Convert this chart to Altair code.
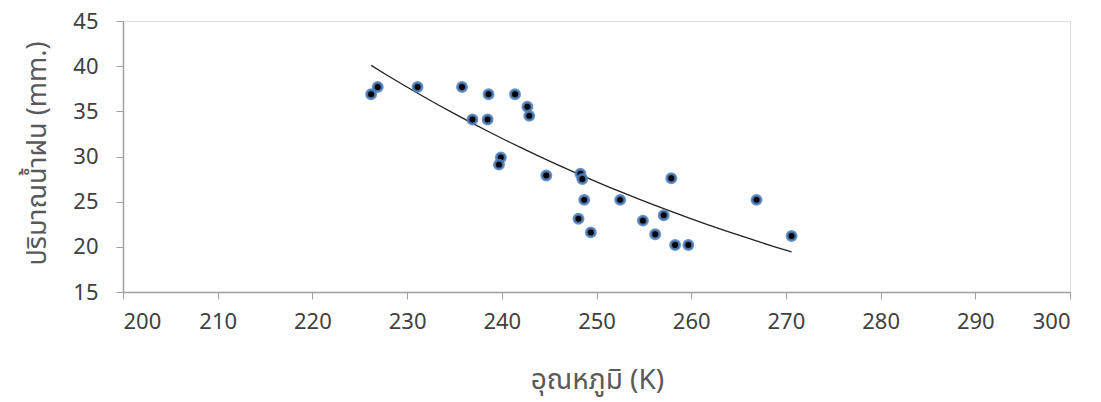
import altair as alt
import pandas as pd

temperature_k = [226.2, 226.9, 231.1, 235.8, 238.6, 241.4, 242.7, 242.9, 236.9, 238.5,
                 239.9, 239.7, 244.7, 248.3, 248.5, 248.7, 248.1, 249.4, 252.5, 254.9,
                 257.1, 256.2, 258.3, 259.7, 257.9, 266.9, 270.6]
rainfall_mm = [36.9, 37.7, 37.7, 37.7, 36.9, 36.9, 35.5, 34.5, 34.1, 34.1,
               29.9, 29.1, 27.9, 28.1, 27.5, 25.2, 23.1, 21.6, 25.2, 22.9,
               23.5, 21.4, 20.2, 20.2, 27.6, 25.2, 21.2]
x_ticks = [200, 210, 220, 230, 240, 250, 260, 270, 280, 290, 300]
y_ticks = [15, 20, 25, 30, 35, 40, 45]

df = pd.DataFrame({"t": temperature_k, "r": rainfall_mm})

FONT = "Noto Sans Thai, Noto Sans, Open Sans, sans-serif"

x_enc = alt.X("t:Q", scale=alt.Scale(domain=[200, 300], nice=False, zero=False),
              axis=alt.Axis(values=x_ticks, title="อุณหภูมิ (K)", grid=False,
                            domainColor="#a0a0a0", domainWidth=1.5,
                            tickColor="#a0a0a0", tickSize=7, tickWidth=1,
                            labelFont=FONT, labelFontSize=22, labelColor="#404040",
                            labelPadding=12,
                            titleFont=FONT, titleFontSize=28, titleFontWeight="normal",
                            titleColor="#595959", titleX=474, titleY=88,
                            titleBaseline="middle", titleAlign="center"))
y_enc = alt.Y("r:Q", scale=alt.Scale(domain=[15, 45], nice=False, zero=False),
              axis=alt.Axis(values=y_ticks, title="ปริมาณน้ำฝน (mm.)", grid=False,
                            domainColor="#a0a0a0", domainWidth=1.5,
                            tickColor="#a0a0a0", tickSize=7, tickWidth=1,
                            labelFont=FONT, labelFontSize=22, labelColor="#404040",
                            labelPadding=18,
                            titleFont=FONT, titleFontSize=27, titleFontWeight="normal",
                            titleColor="#595959", titleX=-86, titleY=132,
                            titleAngle=-90, titleBaseline="middle", titleAlign="center"))

points = alt.Chart(df).mark_circle(size=80, color="black", opacity=1,
                                   stroke="#4f81bd", strokeWidth=3,
                                   strokeOpacity=0.85).encode(x=x_enc, y=y_enc)

trend = alt.Chart(df).transform_regression(
    "t", "r", method="exp"
).mark_line(color="#222222", strokeWidth=1.3).encode(x="t:Q", y="r:Q")

chart = alt.layer(trend, points).properties(
    width=947, height=271,
    autosize=alt.AutoSizeParams(type="none"),
    padding={"left": 115, "top": 13, "right": 20, "bottom": 110},
).configure_view(stroke=None).configure(background="white")

chart.save("out.html", embed_options={"renderer": "svg", "actions": False})
